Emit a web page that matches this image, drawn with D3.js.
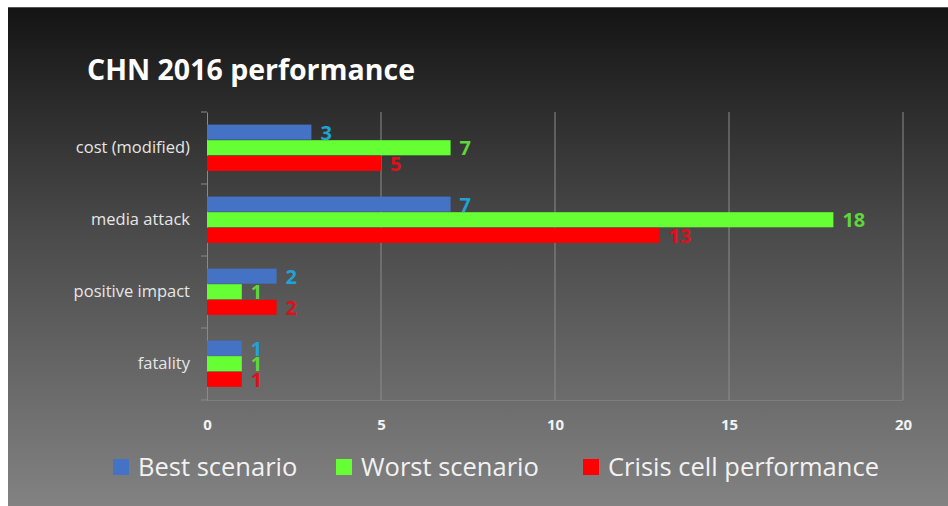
<!DOCTYPE html>
<html>
<head>
<meta charset="utf-8">
<script src="https://cdn.jsdelivr.net/npm/d3@7"></script>
<style>
  body { margin: 0; background: #fff; }
  text { font-family: "Open Sans", Lato, sans-serif; }
</style>
</head>
<body>
<div id="chart"></div>
<script>
// chart data
let categories = ["cost (modified)", "media attack", "positive impact", "fatality"];
let seriesNames = ["Best scenario", "Worst scenario", "Crisis cell performance"];
let bestValues = [3, 7, 2, 1];
let worstValues = [7, 18, 1, 1];
let crisisValues = [5, 13, 2, 1];
let xTicks = [0, 5, 10, 15, 20];

let barColors = ["#4472c4", "#66ff33", "#ff0000"];
let labelColors = ["#1fa3d6", "#5fd63a", "#e0101a"];

let svgWidth = 948;
let svgHeight = 506;

let margin = { top: 112, right: 45, bottom: 106, left: 207 };
let width = svgWidth - margin.left - margin.right;
let height = svgHeight - margin.top - margin.bottom;

let svg = d3.select("#chart")
  .append("svg")
  .attr("width", svgWidth)
  .attr("height", svgHeight);

// background gradient
let defs = svg.append("defs");
let grad = defs.append("linearGradient")
  .attr("id", "bg")
  .attr("x1", 0).attr("y1", 0).attr("x2", 0).attr("y2", 1);
grad.append("stop").attr("offset", "0%").attr("stop-color", "#141414");
grad.append("stop").attr("offset", "45%").attr("stop-color", "#4a4a4a");
grad.append("stop").attr("offset", "100%").attr("stop-color", "#828282");

svg.append("rect")
  .attr("x", 8).attr("y", 7)
  .attr("width", svgWidth - 8).attr("height", svgHeight - 7)
  .attr("fill", "url(#bg)");
svg.append("line")
  .attr("x1", 8).attr("x2", svgWidth)
  .attr("y1", 7.5).attr("y2", 7.5)
  .attr("stroke", "#555");

// title
svg.append("text")
  .attr("x", 87)
  .attr("y", 80)
  .attr("fill", "#ffffff")
  .attr("font-size", "28.5px")
  .attr("font-weight", "bold")
  .text("CHN 2016 performance");

let chartGroup = svg.append("g")
  .attr("transform", `translate(${margin.left}, ${margin.top})`);

let data = categories.map((c, i) => ({
  cat: c,
  values: [bestValues[i], worstValues[i], crisisValues[i]]
}));

// scales
let xScale = d3.scaleLinear()
  .domain([0, 20])
  .range([0, width]);

let yScale = d3.scaleBand()
  .domain(categories)
  .range([0, height])
  .paddingInner(0.35)
  .paddingOuter(0.175);

let ySub = d3.scaleBand()
  .domain(d3.range(3))
  .range([0, yScale.bandwidth()]);

// gridlines
chartGroup.append("g")
  .selectAll("line")
  .data(xTicks.slice(1))
  .enter()
  .append("line")
  .attr("x1", d => xScale(d)).attr("x2", d => xScale(d))
  .attr("y1", 0).attr("y2", height)
  .attr("stroke", "#8c8c8c")
  .attr("stroke-width", 1);

chartGroup.append("line")
  .attr("x1", 0).attr("x2", width)
  .attr("y1", height + 0.5).attr("y2", height + 0.5)
  .attr("stroke", "#8a8a8a")
  .attr("stroke-opacity", 0.6);

// x axis
let bottomAxis = d3.axisBottom(xScale).tickValues(xTicks).tickSize(0).tickPadding(19);
let xAxis = chartGroup.append("g")
  .attr("transform", `translate(0, ${height})`)
  .call(bottomAxis);
xAxis.select(".domain").remove();
xAxis.selectAll("text")
  .attr("fill", "#f2f2f2")
  .attr("font-size", "15px")
  .attr("font-weight", "bold");

// y axis
let leftAxis = d3.axisLeft(yScale).tickSize(0).tickPadding(17);
let yAxis = chartGroup.append("g").call(leftAxis);
yAxis.select(".domain")
  .attr("stroke", "#8a8a8a");
yAxis.selectAll("text")
  .attr("fill", "#e6e6e6")
  .attr("font-size", "16.5px");

// category boundary ticks
chartGroup.append("g")
  .selectAll("line")
  .data(d3.range(categories.length + 1))
  .enter()
  .append("line")
  .attr("x1", -6).attr("x2", 0)
  .attr("y1", d => d * height / categories.length)
  .attr("y2", d => d * height / categories.length)
  .attr("stroke", "#8a8a8a");

// bars
let groups = chartGroup.selectAll(".cat")
  .data(data)
  .enter()
  .append("g")
  .attr("class", "cat")
  .attr("transform", d => `translate(0, ${yScale(d.cat)})`);

groups.selectAll("rect")
  .data(d => d.values)
  .enter()
  .append("rect")
  .attr("x", 0)
  .attr("y", (d, i) => ySub(i))
  .attr("width", d => xScale(d))
  .attr("height", ySub.bandwidth() - 0.5)
  .attr("fill", (d, i) => barColors[i]);

// value labels sit on the bar's baseline, as in the original
groups.selectAll(".val")
  .data(d => d.values)
  .enter()
  .append("text")
  .attr("class", "val")
  .attr("x", d => xScale(d) + 9)
  .attr("y", (d, i) => ySub(i) + ySub.bandwidth() - 0.5)
  .attr("fill", (d, i) => labelColors[i])
  .attr("font-size", "20px")
  .attr("font-weight", "bold")
  .text(d => d);

// legend
let legendX = [113, 336, 583];
let legend = svg.append("g")
  .selectAll("g")
  .data(seriesNames)
  .enter()
  .append("g")
  .attr("transform", (d, i) => `translate(${legendX[i]}, 459)`);

legend.append("rect")
  .attr("width", 16)
  .attr("height", 16)
  .attr("fill", (d, i) => barColors[i]);

legend.append("text")
  .attr("x", 25)
  .attr("y", 17)
  .attr("fill", "#f2f2f2")
  .attr("font-size", "25.5px")
  .text(d => d);
</script>
</body>
</html>
